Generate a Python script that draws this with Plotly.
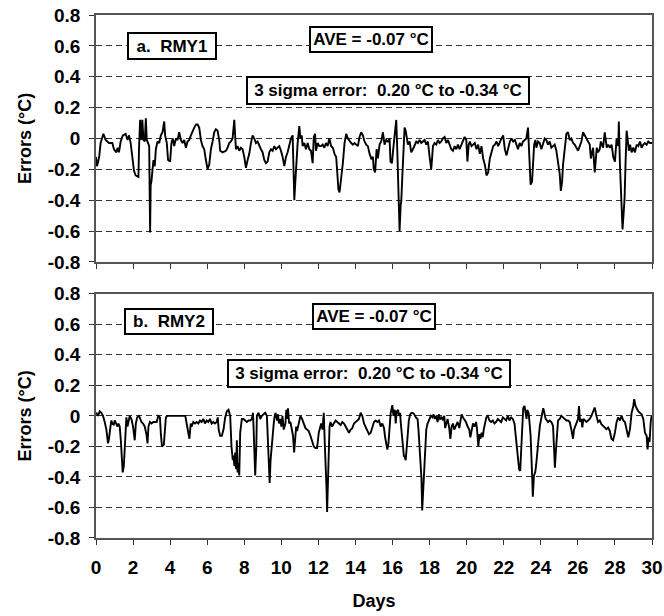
import plotly.graph_objects as go

# ---------------- data ----------------
rmy1_days = [0.0,0.05,0.12,0.18,0.25,0.40,0.52,0.70,0.88,0.97,1.10,1.17,1.24,1.33,1.45,1.60,1.70,1.78,1.87,1.96,2.05,2.14,2.29,2.32,2.38,2.45,2.50,2.56,2.63,2.69,2.74,2.81,2.87,2.90,2.92,2.95,2.99,3.10,3.17,3.23,3.32,3.41,3.50,3.59,3.68,3.73,3.82,3.89,4.00,4.07,4.14,4.22,4.31,4.40,4.49,4.58,4.67,4.76,4.85,4.94,5.03,5.12,5.21,5.30,5.40,5.48,5.57,5.66,5.75,5.84,5.93,6.02,6.11,6.20,6.29,6.38,6.47,6.56,6.65,6.70,6.83,7.01,7.10,7.19,7.28,7.37,7.46,7.52,
 7.55,7.64,7.73,7.82,7.91,8.0,8.09,8.18,8.27,8.36,8.45,8.54,8.63,8.72,8.81,8.90,8.99,9.08,9.17,9.26,9.35,9.44,9.53,9.62,9.71,9.80,9.89,9.98,10.07,10.16,10.25,10.34,10.43,10.52,10.61,10.67,10.70,10.76,10.81,10.88,10.97,11.03,11.10,11.15,11.24,11.33,11.42,11.51,11.60,11.69,11.75,11.82,11.87,11.96,12.05,12.14,12.23,12.32,12.41,12.50,12.59,12.69,12.78,12.87,12.96,13.01,13.08,13.14,13.19,13.23,13.32,13.41,13.50,13.59,13.68,13.77,13.86,13.95,14.04,14.13,14.22,14.31,14.40,14.49,14.58,14.67,14.76,14.85,14.94,14.99,15.06,15.10,
 15.14,15.21,15.30,15.39,15.48,15.57,15.66,15.75,15.84,15.89,15.97,16.02,16.08,16.15,16.20,16.26,16.29,16.33,16.38,16.44,16.47,16.53,16.58,16.62,16.65,16.71,16.76,16.83,16.92,17.01,17.10,17.19,17.28,17.37,17.46,17.55,17.64,17.73,17.82,17.91,18.0,18.09,18.18,18.27,18.36,18.45,18.54,18.63,18.72,18.81,18.90,18.99,19.08,19.17,19.26,19.35,19.44,19.53,19.62,19.71,19.80,19.89,19.98,20.04,20.11,20.17,20.26,20.35,20.44,20.53,20.62,20.71,20.80,20.89,20.98,21.07,21.16,21.25,21.34,21.43,21.52,21.61,21.70,21.79,21.88,21.97,22.06,22.15,22.24,22.33,22.42,22.51,22.60,
 22.68,22.77,22.86,22.95,23.04,23.13,23.22,23.31,23.36,23.40,23.45,23.53,23.58,23.64,23.71,23.76,23.85,23.94,24.03,24.12,24.21,24.30,24.39,24.48,24.57,24.66,24.75,24.84,24.93,25.02,25.08,25.15,25.20,25.29,25.38,25.47,25.56,25.65,25.74,25.83,25.92,26.01,26.10,26.19,26.28,26.37,26.46,26.55,26.64,26.70,26.77,26.82,26.91,26.97,27.02,27.09,27.18,27.24,27.31,27.36,27.45,27.51,27.56,27.64,27.73,27.82,27.91,28.00,28.09,28.18,28.21,28.27,28.32,28.37,28.41,28.46,28.52,28.57,28.63,28.68,28.75,28.82,28.90,28.99,29.08,29.17,29.26,29.35,29.44,29.53,29.62,29.71,29.80,29.89,30.0]
rmy1_err = [-0.12,-0.18,-0.15,-0.11,-0.03,0.03,-0.01,-0.03,-0.03,-0.07,-0.09,-0.06,-0.09,-0.02,0.02,0.03,-0.01,0.02,-0.03,-0.14,-0.21,-0.24,-0.25,-0.07,0.12,-0.01,0.12,-0.01,-0.02,0.13,-0.01,-0.03,-0.05,-0.40,-0.61,-0.30,-0.28,-0.14,-0.18,-0.07,-0.02,-0.03,0.02,0.04,0.11,0.02,-0.03,-0.14,-0.15,-0.03,0.0,-0.05,0.0,-0.01,0.04,-0.01,-0.03,-0.01,-0.06,-0.02,-0.01,0.02,0.05,0.07,0.09,0.09,0.07,-0.01,-0.05,-0.07,-0.14,-0.20,-0.17,-0.07,-0.02,0.04,0.06,0.05,-0.01,-0.08,-0.09,-0.08,-0.06,-0.03,-0.02,0.0,0.12,-0.03,
 -0.07,-0.05,-0.08,-0.06,-0.07,-0.12,-0.19,-0.14,-0.10,-0.03,0.02,0.0,-0.03,-0.02,-0.05,-0.07,-0.09,-0.14,-0.16,-0.15,-0.09,-0.07,-0.08,-0.05,-0.07,-0.06,-0.05,-0.08,-0.12,-0.18,-0.12,-0.09,-0.04,0.0,0.02,-0.20,-0.40,-0.27,-0.14,-0.03,0.08,0.0,0.02,-0.05,-0.03,-0.07,-0.03,-0.07,-0.08,-0.16,0.01,0.03,-0.08,-0.03,-0.05,-0.05,-0.04,-0.06,-0.03,-0.05,0.0,-0.05,-0.06,-0.10,-0.12,-0.20,-0.33,-0.35,-0.30,-0.24,-0.16,-0.03,0.03,0.0,-0.02,-0.03,-0.04,-0.03,-0.04,-0.05,0.01,0.04,0.02,-0.02,-0.04,-0.05,-0.10,-0.13,-0.12,-0.20,-0.22,-0.16,
 -0.07,-0.13,-0.04,-0.02,0.04,-0.04,-0.01,-0.02,0.0,-0.15,-0.16,-0.09,-0.02,0.02,0.12,-0.09,-0.28,-0.46,-0.60,-0.43,-0.41,-0.24,-0.07,0.0,0.07,0.05,0.0,-0.04,-0.02,-0.09,-0.07,-0.05,-0.02,-0.03,-0.01,-0.03,-0.02,-0.01,-0.04,-0.02,-0.12,-0.20,-0.05,-0.03,-0.04,-0.01,-0.03,-0.02,0.0,0.01,-0.03,-0.01,-0.04,-0.07,-0.08,-0.05,-0.07,-0.04,-0.07,-0.04,-0.02,0.01,-0.01,-0.15,-0.04,-0.02,-0.05,-0.04,-0.03,-0.07,-0.04,-0.10,-0.05,-0.13,-0.17,-0.24,-0.22,-0.13,-0.09,-0.05,-0.04,-0.02,-0.05,-0.02,0.0,0.02,-0.07,-0.11,-0.07,-0.02,0.0,-0.02,-0.01,
 -0.04,-0.07,-0.03,-0.05,-0.02,-0.01,0.0,0.07,-0.04,-0.15,-0.30,-0.28,-0.19,-0.04,-0.01,-0.06,-0.02,-0.03,-0.07,-0.04,0.0,-0.01,-0.04,-0.02,-0.06,-0.05,-0.04,-0.08,-0.15,-0.23,-0.34,-0.28,-0.17,-0.06,0.03,0.04,-0.01,0.0,-0.03,-0.04,-0.06,-0.08,-0.05,-0.02,0.04,0.02,-0.01,-0.02,-0.04,-0.13,-0.08,-0.06,-0.22,-0.13,-0.06,-0.09,-0.07,-0.02,-0.04,-0.06,0.04,-0.02,-0.06,-0.04,-0.06,-0.04,-0.12,-0.15,0.0,-0.05,0.11,-0.17,-0.32,-0.45,-0.59,-0.50,-0.39,-0.17,0.05,0.0,-0.08,-0.04,-0.09,-0.06,-0.09,-0.04,-0.05,-0.02,-0.06,-0.04,-0.03,-0.04,-0.02,-0.03,-0.03]

rmy2_days = [0.0,0.02,0.11,0.20,0.29,0.38,0.47,0.56,0.65,0.70,0.78,0.83,0.88,0.96,1.01,1.10,1.16,1.21,1.28,1.34,1.39,1.44,1.50,1.55,1.61,1.64,1.70,1.77,1.82,1.91,2.00,2.09,2.15,2.22,2.31,2.36,2.45,2.54,2.63,2.72,2.78,2.83,2.91,3.00,3.09,3.18,3.27,3.36,3.45,3.50,3.56,3.66,3.72,3.77,3.84,3.95,4.17,4.35,4.53,4.71,4.82,4.89,4.98,5.04,5.11,5.16,5.25,5.34,5.43,5.52,5.61,5.70,5.79,5.88,5.97,6.06,6.15,6.24,6.33,6.42,6.51,6.57,6.62,6.70,6.79,6.88,6.97,7.06,7.15,7.24,7.31,7.38,7.42,7.47,7.51,7.56,
 7.60,7.64,7.69,7.73,7.78,7.82,7.87,7.96,8.05,8.14,8.23,8.32,8.41,8.47,8.50,8.56,8.59,8.65,8.68,8.77,8.86,8.95,9.04,9.13,9.22,9.28,9.33,9.37,9.42,9.48,9.53,9.59,9.64,9.69,9.77,9.82,9.87,9.95,10.0,10.06,10.13,10.22,10.27,10.31,10.36,10.42,10.49,10.58,10.63,10.69,10.74,10.80,10.85,10.94,11.03,11.12,11.21,11.30,11.39,11.48,11.57,11.66,11.75,11.84,11.93,12.02,12.08,12.15,12.22,12.29,12.35,12.40,12.44,12.47,12.51,12.55,12.60,12.65,12.74,12.83,12.93,13.02,13.11,13.20,13.29,13.38,13.47,13.56,13.65,13.74,13.83,13.92,14.01,14.10,14.19,14.28,14.37,14.46,14.55,14.64,14.73,14.82,14.91,15.0,
 15.09,15.18,15.27,15.36,15.45,15.54,15.60,15.67,15.72,15.78,15.83,15.90,15.99,16.05,16.12,16.17,16.23,16.30,16.35,16.41,16.44,16.50,16.55,16.61,16.66,16.71,16.77,16.82,16.88,16.95,17.02,17.09,17.17,17.26,17.35,17.40,17.45,17.51,17.56,17.60,17.65,17.71,17.76,17.82,17.89,17.98,18.07,18.16,18.21,18.29,18.36,18.43,18.50,18.57,18.65,18.72,18.79,18.84,18.90,18.97,19.06,19.12,19.19,19.26,19.33,19.42,19.51,19.60,19.66,19.73,19.80,19.87,19.96,20.05,20.14,20.20,20.27,20.34,20.42,20.51,20.56,20.63,20.69,20.74,20.81,20.87,20.92,20.99,21.06,21.14,21.23,21.32,21.41,21.50,21.59,21.68,21.77,21.86,21.95,22.04,22.13,22.22,22.31,22.40,22.49,22.58,
 22.63,22.69,22.76,22.83,22.89,22.94,23.0,23.05,23.12,23.18,23.23,23.27,23.34,23.39,23.45,23.52,23.57,23.63,23.70,23.75,23.81,23.88,23.95,24.02,24.08,24.13,24.19,24.26,24.33,24.39,24.48,24.57,24.66,24.71,24.76,24.82,24.87,24.93,25.02,25.11,25.20,25.29,25.38,25.47,25.56,25.65,25.74,25.79,25.87,25.94,26.01,26.06,26.12,26.19,26.24,26.30,26.37,26.46,26.55,26.64,26.73,26.82,26.91,27.0,27.09,27.18,27.27,27.36,27.45,27.54,27.63,27.72,27.81,27.90,28.0,28.09,28.18,28.27,28.36,28.45,28.54,28.63,28.72,28.81,28.90,28.99,29.04,29.11,29.19,29.26,29.35,29.44,29.53,29.62,29.71,29.76,29.82,29.87,29.93,29.98]
rmy2_err = [0.01,0.02,0.0,0.03,0.02,0.0,-0.04,-0.09,-0.18,-0.15,-0.07,-0.03,-0.05,-0.06,-0.03,-0.06,-0.07,-0.05,-0.07,-0.16,-0.25,-0.37,-0.33,-0.22,-0.03,-0.01,-0.07,-0.03,0.0,-0.02,-0.07,-0.16,-0.05,-0.01,0.0,-0.01,-0.04,-0.05,-0.07,-0.12,-0.18,-0.07,-0.04,-0.05,-0.04,-0.04,-0.04,0.0,-0.01,-0.12,-0.20,-0.19,-0.09,-0.01,0.0,0.0,0.0,0.0,0.0,0.0,0.0,-0.05,-0.12,-0.15,-0.05,-0.07,-0.04,-0.05,-0.04,-0.05,-0.03,-0.04,-0.02,-0.05,-0.03,-0.04,-0.02,-0.05,-0.04,-0.05,-0.04,-0.01,-0.09,-0.13,-0.13,-0.09,-0.01,0.03,0.04,0.0,-0.20,-0.29,-0.26,-0.33,-0.24,-0.35,
 -0.16,-0.37,-0.31,-0.39,-0.11,-0.05,-0.02,-0.02,-0.03,-0.04,-0.03,-0.03,-0.02,0.02,-0.07,-0.22,-0.39,-0.20,0.0,0.02,-0.02,0.0,0.01,0.02,0.0,-0.20,-0.33,-0.44,-0.29,-0.18,-0.11,-0.05,0.0,0.02,-0.03,0.01,-0.05,-0.02,-0.07,0.0,-0.09,-0.05,0.04,-0.02,0.05,-0.05,-0.04,-0.09,-0.13,-0.24,-0.13,-0.07,-0.10,-0.04,0.0,-0.02,-0.05,-0.08,-0.09,-0.10,-0.13,-0.17,-0.20,-0.21,-0.21,-0.11,-0.07,-0.05,-0.09,0.02,-0.20,-0.33,-0.48,-0.63,-0.42,-0.20,-0.07,-0.04,-0.07,-0.05,-0.03,-0.04,-0.05,-0.06,-0.04,-0.05,-0.07,-0.09,-0.11,-0.09,-0.08,-0.05,-0.04,-0.03,-0.02,0.02,0.0,-0.05,-0.07,-0.10,-0.12,-0.11,-0.07,-0.04,
 -0.03,-0.04,-0.03,-0.07,-0.05,-0.08,-0.14,-0.20,-0.22,-0.18,-0.09,0.02,0.07,0.0,0.04,-0.05,0.03,0.04,0.0,0.02,-0.04,-0.13,-0.20,-0.26,-0.27,-0.29,-0.20,-0.09,-0.03,0.01,0.02,0.02,0.01,-0.01,-0.02,-0.09,-0.20,-0.28,-0.41,-0.62,-0.48,-0.30,-0.15,-0.09,-0.05,-0.03,0.0,-0.01,0.01,-0.02,0.0,-0.04,0.01,-0.02,-0.01,-0.03,0.0,-0.08,-0.04,-0.02,-0.08,-0.15,-0.07,-0.05,-0.09,-0.07,-0.04,-0.08,-0.03,0.01,-0.01,-0.02,-0.04,-0.07,-0.09,-0.14,-0.08,-0.05,-0.07,-0.04,-0.09,-0.20,-0.12,-0.15,-0.11,-0.14,-0.09,-0.04,-0.01,0.0,-0.03,-0.04,-0.03,-0.05,-0.04,-0.02,-0.03,-0.04,-0.01,-0.02,-0.03,0.0,-0.03,-0.01,-0.02,-0.05,
 -0.11,-0.195,-0.28,-0.35,-0.36,-0.195,-0.04,0.05,0.065,0.02,-0.02,0.04,0.02,-0.04,-0.13,-0.35,-0.53,-0.39,-0.37,-0.32,-0.26,-0.15,-0.065,-0.02,0.03,0.05,0.02,-0.02,-0.03,-0.04,-0.03,-0.04,-0.065,-0.195,-0.34,-0.22,-0.09,-0.03,-0.02,0.0,-0.01,-0.02,-0.03,-0.03,-0.04,-0.09,-0.15,-0.09,-0.065,-0.04,-0.02,0.065,-0.04,-0.02,-0.076,-0.02,-0.03,-0.04,-0.03,-0.02,0.0,0.03,0.055,0.0,-0.04,-0.03,-0.054,-0.065,-0.076,-0.087,-0.076,-0.097,-0.15,-0.16,-0.11,-0.04,-0.01,-0.03,0.0,-0.03,-0.04,-0.087,-0.14,-0.087,0.02,0.065,0.11,0.065,0.043,0.03,0.02,0.01,-0.02,-0.11,-0.13,-0.22,-0.14,-0.17,-0.04,0.0]

y_ticks = [-0.8, -0.6, -0.4, -0.2, 0, 0.2, 0.4, 0.6, 0.8]
y_tick_text = ["-0.8", "-0.6", "-0.4", "-0.2", "0", "0.2", "0.4", "0.6", "0.8"]
x_ticks = list(range(0, 31, 2))
x_tick_text = [str(v) for v in x_ticks]

panel_labels = ["a.\u00a0 RMY1", "b.\u00a0 RMY2"]
ave_text = "AVE = -0.07 °C"
sigma_text = "3 sigma error:\u00a0 0.20 °C to -0.34 °C"

# ---------------- figure ----------------
FONT = "Liberation Sans, Arial, sans-serif"
fig = go.Figure()
fig.add_trace(go.Scatter(x=rmy1_days, y=rmy1_err, mode="lines",
                         line=dict(color="black", width=1.9), xaxis="x", yaxis="y",
                         showlegend=False, hoverinfo="skip"))
fig.add_trace(go.Scatter(x=rmy2_days, y=rmy2_err, mode="lines",
                         line=dict(color="black", width=1.9), xaxis="x2", yaxis="y2",
                         showlegend=False, hoverinfo="skip"))

tickfont = dict(family=FONT, size=19, color="black", weight="bold")
titlefont = dict(family=FONT, size=18, color="black", weight="bold")

common_y = dict(range=[-0.8, 0.8], tickvals=y_ticks, ticktext=y_tick_text, tickfont=tickfont,
                showgrid=True, gridcolor="#333333", gridwidth=1, griddash="6px,4px",
                zeroline=False, showline=True, linecolor="#555555", linewidth=1.5, mirror=True,
                ticks="outside", ticklen=5, tickcolor="#333333", ticklabelstandoff=5,
                automargin=False,
                title=dict(text="Errors (°C)", font=titlefont, standoff=11))
common_x = dict(range=[0, 30], tickvals=x_ticks, ticktext=x_tick_text, tickfont=tickfont,
                showgrid=False, zeroline=False, showline=True, linecolor="#555555",
                linewidth=1.5, mirror=True, ticks="outside", ticklen=5, tickcolor="#333333",
                automargin=False)

fig.update_layout(
    width=664, height=616,
    margin=dict(l=96, r=12, t=15, b=78),
    paper_bgcolor="white", plot_bgcolor="white",
    xaxis=dict(common_x, domain=[0, 1], anchor="y", showticklabels=False),
    yaxis=dict(common_y, domain=[0.528, 1], anchor="x"),
    xaxis2=dict(common_x, domain=[0, 1], anchor="y2", ticklabelstandoff=6,
                title=dict(text="Days", font=titlefont, standoff=18)),
    yaxis2=dict(common_y, domain=[0, 0.467], anchor="x2"),
)

annfont = dict(family=FONT, size=17, color="black", weight="bold")
boxes = [
    ("x", "y", 4.11, 0.60, panel_labels[0], 84, 22),
    ("x", "y", 14.86, 0.64, ave_text, 118, 21),
    ("x", "y", 15.73, 0.31, sigma_text, 278, 23),
    ("x2", "y2", 3.95, 0.62, panel_labels[1], 84, 21),
    ("x2", "y2", 15.0, 0.65, ave_text, 118, 21),
    ("x2", "y2", 14.73, 0.28, sigma_text, 278, 23),
]
for xr, yr, xv, yv, txt, w, h in boxes:
    fig.add_annotation(xref=xr, yref=yr, x=xv, y=yv, text=txt, showarrow=False,
                       font=annfont, bgcolor="white", bordercolor="black", borderwidth=2,
                       borderpad=1, width=w, height=h, xanchor="center", yanchor="middle")

fig.write_html("out.html", config={"displayModeBar": False},
               post_script="document.body.style.margin='0px';document.body.style.overflow='hidden';")
